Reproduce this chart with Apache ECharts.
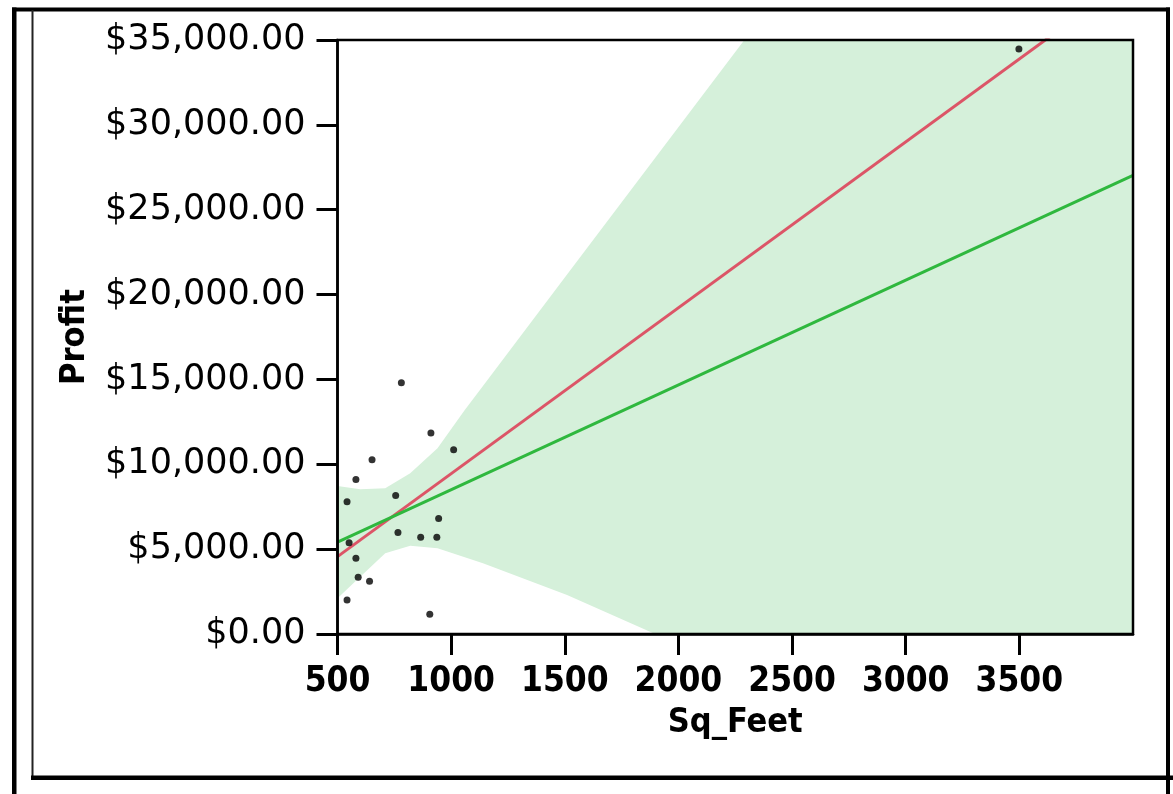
<!DOCTYPE html>
<html>
<head>
<meta charset="utf-8">
<script src="https://cdn.jsdelivr.net/npm/echarts@6/dist/echarts.min.js"></script>
<style>
html,body{margin:0;padding:0;background:#fff;}
#chart{width:1173px;height:794px;}
</style>
</head>
<body>
<div id="chart"></div>
<script>
// ---- data ----
const sqFeet = [781, 911, 1011, 652, 581, 542, 756, 945, 766, 866, 937, 551, 581, 591, 641, 542, 906, 3498];
const profit = [14800, 11840, 10860, 10270, 9100, 7790, 8160, 6800, 5980, 5700, 5700, 5370, 4470, 3350, 3110, 2010, 1160, 34470];

const fitX = [500, 4000];
const redFit = [4560, 38770];
const greenFit = [5410, 27020];

const bandX = [500, 600, 710, 820, 940, 1060, 1140, 1510, 1890, 2290, 4000];
const bandUpper = [8720, 8530, 8590, 9470, 10940, 13200, 14620, 21180, 27910, 35000, 65300];
const bandLower = [2100, 3370, 4755, 5200, 5050, 4515, 4170, 2300, 40, -2560, -14500];

const xTicks = { min: 500, max: 4000, interval: 500 };
const yTicks = { min: 0, max: 35000, interval: 5000 };

// ---- build ----
const pts = sqFeet.map((x, i) => [x, profit[i]]);
const upperData = bandX.map((x, i) => [x, bandUpper[i]]);
const lowerData = bandX.map((x, i) => [x, bandLower[i]]);
const redData = fitX.map((x, i) => [x, redFit[i]]);
const greenData = fitX.map((x, i) => [x, greenFit[i]]);

function money(v) {
  return '$' + v.toLocaleString('en-US', { minimumFractionDigits: 2, maximumFractionDigits: 2 });
}

const chart = echarts.init(document.getElementById('chart'), null, { renderer: 'canvas' });
chart.setOption({
  animation: false,
  backgroundColor: '#fff',
  grid: {
    left: 337.5, right: 40, top: 40, bottom: 160, z: 10,
    show: true, borderColor: '#000', borderWidth: 2.5, backgroundColor: 'transparent'
  },
  xAxis: {
    type: 'value', min: xTicks.min, max: xTicks.max, interval: xTicks.interval, z: 10,
    name: 'Sq_Feet', nameLocation: 'middle', nameGap: 72,
    nameTextStyle: { fontFamily: 'DejaVu Sans Condensed, DejaVu Sans', fontWeight: 'bold', fontSize: 34, color: '#000' },
    axisLine: { show: true, lineStyle: { color: '#000', width: 2.5 } },
    axisTick: { show: true, length: 21, lineStyle: { color: '#000', width: 3 } },
    axisLabel: { show: true, showMaxLabel: false, margin: 30, fontFamily: 'DejaVu Sans Condensed, DejaVu Sans', fontWeight: 'bold', fontSize: 35, color: '#000', formatter: v => String(v) },
    splitLine: { show: false }
  },
  yAxis: {
    type: 'value', min: yTicks.min, max: yTicks.max, interval: yTicks.interval, z: 10,
    name: 'Profit', nameLocation: 'middle', nameGap: 245, nameRotate: 90,
    nameTextStyle: { fontFamily: 'DejaVu Sans Condensed, DejaVu Sans', fontWeight: 'bold', fontSize: 34, color: '#000' },
    axisLine: { show: true, lineStyle: { color: '#000', width: 2.5 } },
    axisTick: { show: true, length: 21, lineStyle: { color: '#000', width: 3 } },
    axisLabel: { show: true, margin: 32, fontFamily: 'DejaVu Sans', fontSize: 35, color: '#000', formatter: money },
    splitLine: { show: false }
  },
  series: [
    {
      type: 'line', data: upperData, symbol: 'none', silent: true, z: 1,
      lineStyle: { width: 0, opacity: 0 },
      areaStyle: { color: '#d5f0da', opacity: 1, origin: 'start' }
    },
    {
      type: 'line', data: lowerData, symbol: 'none', silent: true, z: 1.5,
      lineStyle: { width: 0, opacity: 0 },
      areaStyle: { color: '#ffffff', opacity: 1, origin: 'start' }
    },
    {
      type: 'line', data: redData, symbol: 'none', z: 3,
      lineStyle: { color: '#dc5567', width: 3 }
    },
    {
      type: 'line', data: greenData, symbol: 'none', z: 3,
      lineStyle: { color: '#2fb83e', width: 3 }
    },
    {
      type: 'scatter', data: pts, symbol: 'circle', symbolSize: 7, z: 4,
      itemStyle: { color: '#000' }
    }
  ],
  graphic: [
    { type: 'rect', shape: { x: 12, y: 7.5, width: 1158, height: 4 }, style: { fill: '#000' }, silent: true },
    { type: 'rect', shape: { x: 12, y: 7.5, width: 4.5, height: 787 }, style: { fill: '#000' }, silent: true },
    { type: 'rect', shape: { x: 31.5, y: 10, width: 2, height: 767 }, style: { fill: '#222' }, silent: true },
    { type: 'rect', shape: { x: 31, y: 775.5, width: 1142, height: 4.5 }, style: { fill: '#000' }, silent: true },
    { type: 'rect', shape: { x: 1166, y: 7.5, width: 4, height: 787 }, style: { fill: '#000' }, silent: true }
  ]
});
</script>
</body>
</html>
